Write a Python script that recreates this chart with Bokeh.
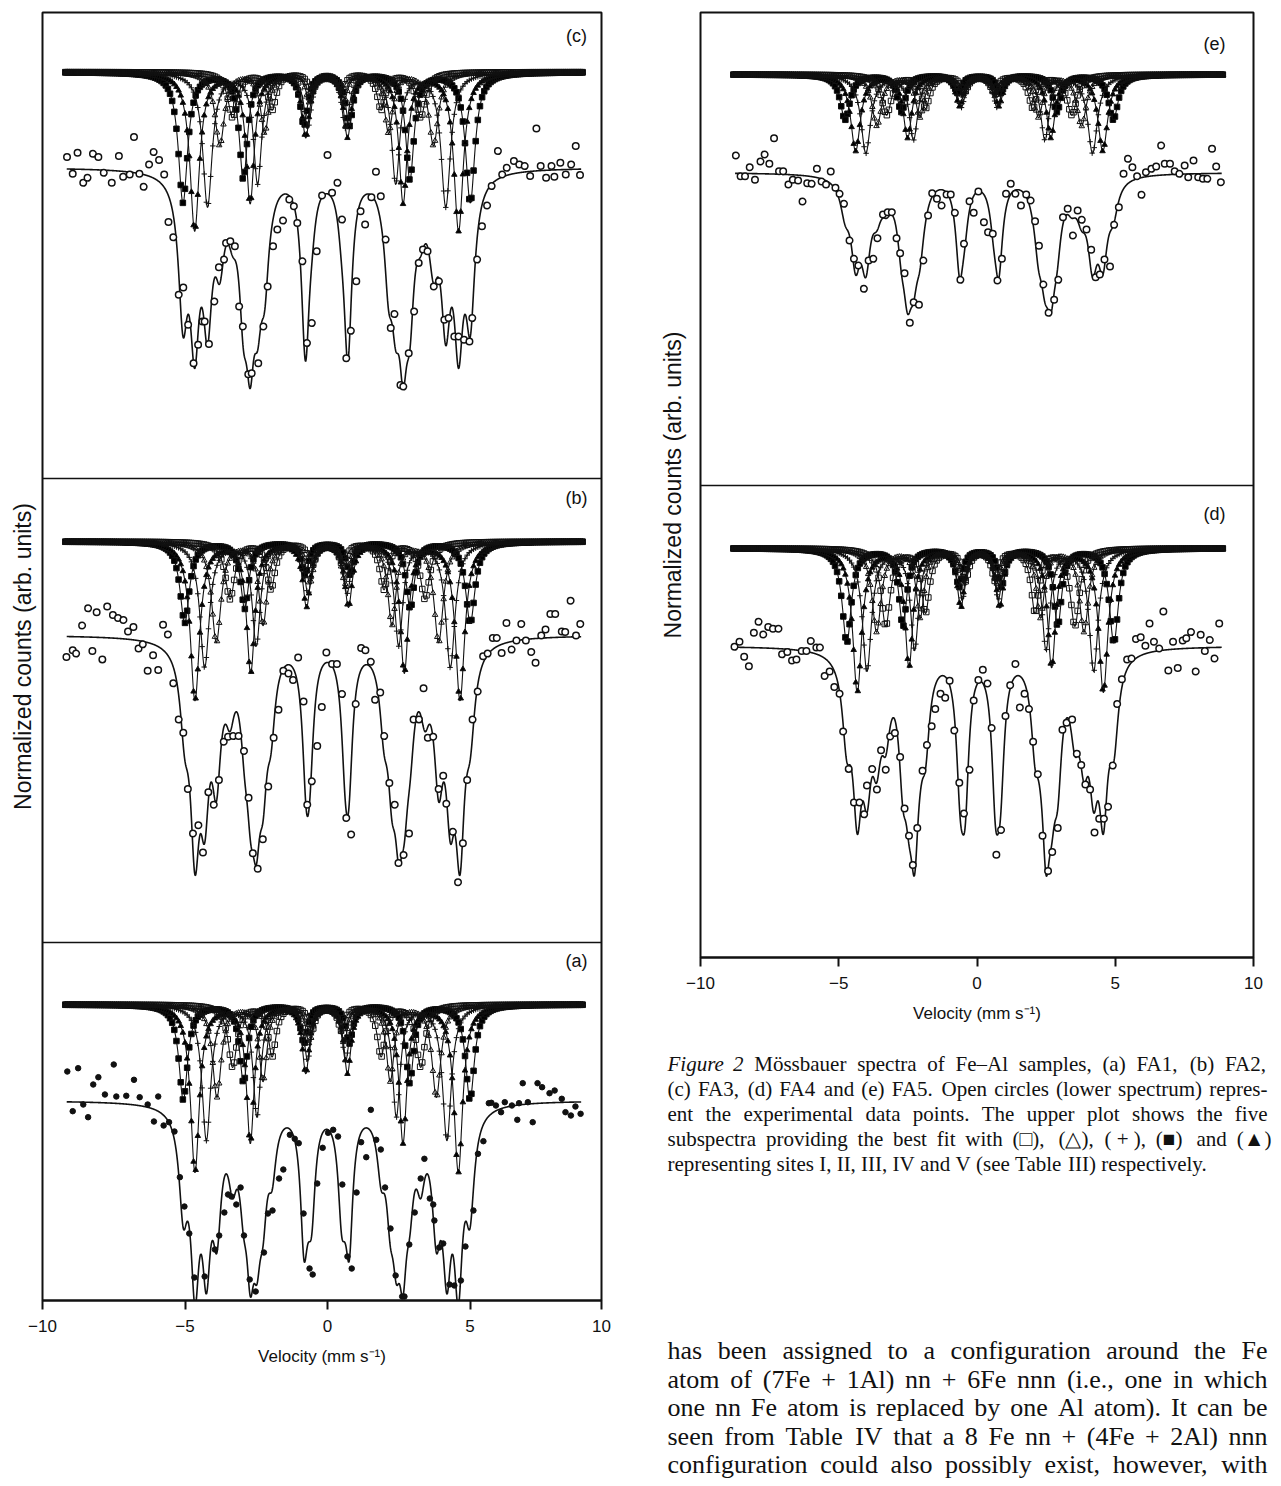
import numpy as np
from bokeh.plotting import figure
from bokeh.layouts import row, column
from bokeh.models import Range1d, FixedTicker, Span, Label, ColumnDataSource
from bokeh.embed import file_html
from bokeh.resources import INLINE
from bokeh.core.properties import value

# ------------------------------------------------------------------ data
x_tick_values = [-10, -5, 0, 5, 10]
x_tick_labels = ["−10", "−5", "0", "5", "10"]
x_axis_title = "Velocity (mm s⁻¹)"
y_axis_title = "Normalized counts (arb. units)"

# six-line magnetic pattern: relative line positions, depths and widths
sextet_positions = [-1.0, -0.5796, -0.1582, 0.1582, 0.5796, 1.0]
sextet_depths = [1.0, 0.82, 0.40, 0.40, 0.82, 1.0]
sextet_widths = [1.25, 1.1, 1.0, 1.0, 1.1, 1.25]

# fitted subspectra (five sites, largest splitting first):
# centre (mm/s), outer-line half splitting (mm/s), outer-line depth (arb.), line HWHM (mm/s)
fa1_centre, fa1_split, fa1_depth, fa1_hwhm = -0.03, [5.03, 4.62, 4.22, 3.85, 3.30], [95, 167, 135, 92, 62], 0.15
fa2_centre, fa2_split, fa2_depth, fa2_hwhm = 0.00, [5.01, 4.65, 4.31, 3.90, 3.42], [81, 158, 125, 100, 57], 0.16
fa3_centre, fa3_split, fa3_depth, fa3_hwhm = -0.03, [5.04, 4.63, 4.18, 3.75, 3.30], [130, 158, 134, 73, 45], 0.16
fa4_centre, fa4_split, fa4_depth, fa4_hwhm = 0.12, [4.83, 4.45, 4.10, 3.75, 3.42], [94, 143, 122, 83, 77], 0.16
fa5_centre, fa5_split, fa5_depth, fa5_hwhm = 0.08, [4.85, 4.47, 4.10, 3.70, 3.35], [45, 76, 78, 51, 40], 0.17

# experimental points (velocity mm/s, counts relative to the background, arb.)
fa1_vel = [-9.13, -8.94, -8.75, -8.57, -8.40, -8.22, -8.04, -7.81, -7.50, -7.41, -7.06, -6.79, -6.59, -6.31, -6.09, -5.94,
           -5.75, -5.56, -5.37, -5.18, -5.02, -4.85, -4.67, -4.31, -3.95, -3.80, -3.62, -3.49, -3.37, -3.20, -3.05, -2.93,
           -2.73, -2.52, -2.23, -2.09, -1.93, -1.70, -1.55, -1.32, -1.15, -1.01, -0.84, -0.63, -0.52, -0.36, -0.17, 0.02,
           0.20, 0.37, 0.52, 0.70, 0.85, 1.02, 1.18, 1.36, 1.52, 1.71, 1.87, 2.02, 2.21, 2.39, 2.62, 2.70, 2.87, 3.06,
           3.27, 3.40, 3.59, 3.71, 3.75, 3.92, 4.06, 4.28, 4.45, 4.68, 4.84, 5.12, 5.28, 5.47, 5.66, 5.75, 5.91, 6.09,
           6.22, 6.47, 6.66, 6.72, 6.85, 7.03, 7.20, 7.37, 7.53, 7.79, 7.97, 8.22, 8.35, 8.54, 8.70, 8.88]
fa1_counts = [29.0, -10.7, 32.3, -4.0, -16.7, 16.0, 23.3, 6.0, 36.0, 4.0, 4.7, 20.7, 3.3, -4.0, -21.0, 4.0,
              -25.0, -21.7, -31.0, -76.7, -106.0, -133.0, -177.0, -176.0, -149.0, -135.0, -112.0, -94.0, -96.0, -104.0, -87.0, -135.0,
              -179.0, -191.0, -152.0, -113.0, -110.0, -78.0, -69.0, -34.3, -38.3, -42.7, -113.0, -168.0, -174.0, -83.0, -47.3, -32.3,
              -29.3, -36.0, -84.0, -156.0, -168.0, -92.0, -41.7, -56.7, -9.3, -39.3, -49.0, -87.0, -128.0, -175.0, -196.0, -196.0, -144.0, -112.0,
              -78.0, -58.3, -98.0, -104.0, -120.0, -147.0, -143.0, -184.0, -185.0, -180.0, -146.0, -110.0, -53.3, -40.7, -2.7, -2.3, -5.0, -11.7,
              -1.7, -5.0, -19.3, -2.7, 17.3, -1.7, -21.7, 17.3, 13.3, 7.3, 10.0, 1.7, -11.7, -15.0, -6.0, -13.3]

fa2_vel = [-9.16, -8.94, -8.82, -8.61, -8.40, -8.25, -8.10, -7.90, -7.73, -7.53, -7.35, -7.16, -7.00, -6.81, -6.63, -6.48,
           -6.31, -6.12, -5.94, -5.77, -5.60, -5.41, -5.22, -5.06, -4.90, -4.72, -4.53, -4.37, -4.18, -3.99, -3.81, -3.64,
           -3.49, -3.31, -3.12, -2.93, -2.77, -2.62, -2.45, -2.27, -2.08, -1.89, -1.72, -1.55, -1.37, -1.21, -1.03, -0.84,
           -0.71, -0.55, -0.36, -0.20, -0.04, 0.16, 0.33, 0.51, 0.66, 0.83, 0.99, 1.18, 1.33, 1.52, 1.67, 1.85, 1.99, 2.17,
           2.36, 2.49, 2.67, 2.86, 3.02, 3.21, 3.37, 3.52, 3.71, 3.90, 4.06, 4.17, 4.40, 4.58, 4.75, 4.90, 5.09, 5.27, 5.46,
           5.62, 5.80, 5.94, 6.11, 6.28, 6.46, 6.63, 6.80, 6.96, 7.15, 7.30, 7.50, 7.65, 7.82, 7.99, 8.22, 8.34, 8.53, 8.72, 8.87]
fa2_counts = [-21.9, -15.3, -18.6, 9.5, 26.7, -15.9, 22.7, -24.5, 28.6, 20.1, 17.1, 15.1, 3.6, 7.9, -13.6, -9.3,
              -35.7, -20.2, -35.1, 10.2, 0.6, -48.3, -84.6, -97.8, -153.9, -198.4, -190.2, -217.5, -157.2, -169.7, -144.9, -106.7,
              -101.7, -101.1, -101.1, -115.9, -162.8, -218.2, -233.7, -204.3, -151.5, -102.7, -74.7, -35.7, -38.4, -44.9, -22.5, -66.4,
              -169.7, -146.3, -111.0, -72.0, -17.6, -29.1, -29.1, -59.1, -182.9, -199.4, -69.0, -12.9, -15.3, -26.8, -64.8, -57.5, -101.1, -147.9,
              -169.7, -228.1, -219.9, -198.4, -84.6, -84.6, -53.2, -102.7, -101.7, -153.9, -140.7, -168.7, -196.8, -247.2, -208.3, -144.9, -84.6, -56.5, -21.2,
              -18.6, -3.0, -3.0, -17.9, 12.1, -14.6, -5.4, 11.1, -5.4, -16.9, -27.8, -0.4, 5.5, 21.1, 21.1, 3.6, 2.9, 34.3, -0.4, 11.1]

fa3_vel = [-9.14, -8.94, -8.77, -8.57, -8.42, -8.23, -8.04, -7.85, -7.57, -7.32, -7.17, -6.94, -6.79, -6.60, -6.45, -6.26,
           -6.10, -5.91, -5.73, -5.58, -5.41, -5.22, -5.06, -4.89, -4.70, -4.54, -4.39, -4.31, -4.16, -3.97, -3.81, -3.63,
           -3.56, -3.41, -3.25, -3.10, -2.97, -2.78, -2.66, -2.43, -2.25, -2.10, -1.91, -1.76, -1.56, -1.34, -1.18, -1.06,
           -0.88, -0.72, -0.55, -0.38, -0.19, 0.00, 0.16, 0.35, 0.51, 0.66, 0.82, 1.01, 1.16, 1.32, 1.54, 1.70, 1.87, 2.04,
           2.22, 2.35, 2.56, 2.66, 2.85, 3.04, 3.20, 3.35, 3.51, 3.73, 3.91, 4.10, 4.25, 4.45, 4.60, 4.79, 4.98, 5.08, 5.25,
           5.42, 5.60, 5.76, 5.98, 6.13, 6.29, 6.54, 6.73, 6.92, 7.11, 7.33, 7.48, 7.67, 7.86, 7.96, 8.17, 8.36, 8.55, 8.71, 8.86]
fa3_counts = [10.4, -6.3, 14.7, -15.3, -10.3, 13.7, 10.4, -5.3, -15.3, 11.4, -9.3, -7.0, 30.4, -6.3, -19.3, 3.1,
              15.4, 7.4, -7.0, -54.4, -69.8, -127.2, -119.9, -157.3, -195.7, -177.3, -153.9, -153.9, -176.6, -133.9, -99.8, -92.1,
              -75.4, -73.8, -78.8, -138.9, -158.9, -206.7, -205.7, -195.7, -158.9, -118.9, -78.8, -62.1, -53.1, -32.0, -38.7, -55.4,
              -93.8, -175.6, -155.6, -83.8, -28.0, 12.4, -25.3, -15.3, -52.1, -190.7, -163.3, -113.8, -43.7, -57.1, -29.7, -4.3, -28.7, -72.1,
              -160.6, -146.6, -217.4, -219.1, -185.7, -143.9, -95.5, -82.1, -83.8, -118.9, -113.8, -152.3, -150.6, -169.0, -169.0, -172.3, -174.0, -150.6, -92.1,
              -58.7, -38.0, -18.6, 16.4, -7.0, -0.3, 6.4, 3.1, 1.4, -8.6, 39.1, 1.4, -10.3, 1.4, -9.3, 4.7, -7.0, 3.1, 21.4, -7.6]

fa4_vel = [-8.77, -8.59, -8.42, -8.25, -8.07, -7.90, -7.73, -7.55, -7.38, -7.18, -7.05, -6.86, -6.69, -6.53, -6.34, -6.17,
           -6.01, -5.81, -5.68, -5.51, -5.33, -5.16, -4.97, -4.84, -4.64, -4.45, -4.25, -4.08, -3.98, -3.79, -3.62, -3.47,
           -3.30, -3.14, -2.97, -2.78, -2.62, -2.46, -2.32, -2.16, -1.97, -1.81, -1.64, -1.51, -1.32, -1.15, -0.99, -0.82,
           -0.64, -0.47, -0.27, -0.12, 0.05, 0.21, 0.38, 0.53, 0.70, 0.87, 1.03, 1.20, 1.39, 1.55, 1.72, 1.88, 2.03, 2.20,
           2.37, 2.57, 2.72, 2.92, 3.09, 3.24, 3.44, 3.61, 3.77, 3.92, 4.09, 4.25, 4.42, 4.59, 4.74, 4.91, 5.07, 5.24, 5.43,
           5.59, 5.75, 5.92, 6.09, 6.24, 6.40, 6.59, 6.74, 6.92, 7.09, 7.26, 7.44, 7.57, 7.74, 7.91, 8.09, 8.24, 8.42, 8.59, 8.76]
fa4_counts = [-1.0, 4.1, -10.9, -20.5, 13.0, 24.0, 11.3, 18.8, 17.1, 17.1, -8.5, -6.1, -14.7, -13.7, -5.1, -5.1,
              4.8, -1.7, -1.7, -30.1, -25.7, -41.1, -47.9, -85.6, -123.3, -156.8, -156.8, -168.5, -139.7, -123.3, -143.8, -104.4,
              -123.9, -90.7, -87.3, -111.3, -162.7, -190.0, -219.2, -182.2, -125.0, -99.3, -80.5, -63.3, -47.9, -52.0, -34.9, -84.6,
              -137.0, -167.8, -124.0, -54.8, -34.2, -23.9, -37.7, -82.2, -208.9, -184.2, -70.2, -39.4, -18.1, -61.6, -47.9, -63.3, -95.9, -128.4,
              -190.0, -225.3, -206.1, -182.2, -83.9, -77.0, -73.6, -107.9, -119.2, -138.7, -143.8, -186.6, -172.9, -172.9, -160.9, -119.8, -58.2, -33.5, -13.7,
              -12.7, 6.9, 8.6, 0.0, 22.3, 4.1, -2.7, 34.3, -24.6, 4.1, -22.2, 5.2, 7.6, 13.7, -25.7, 11.0, -5.1, 5.8, -12.7, 22.3]

fa5_vel = [-8.72, -8.55, -8.39, -8.22, -8.03, -7.83, -7.68, -7.51, -7.34, -7.16, -7.01, -6.82, -6.66, -6.47, -6.31, -6.14,
           -5.98, -5.79, -5.62, -5.46, -5.29, -5.12, -4.97, -4.81, -4.61, -4.45, -4.29, -4.09, -3.92, -3.75, -3.60, -3.40,
           -3.23, -3.08, -2.91, -2.78, -2.62, -2.43, -2.29, -2.10, -1.94, -1.77, -1.62, -1.45, -1.28, -1.10, -0.95, -0.80,
           -0.60, -0.47, -0.27, -0.12, 0.05, 0.25, 0.40, 0.57, 0.74, 0.90, 1.05, 1.22, 1.39, 1.59, 1.78, 1.94, 2.10, 2.24,
           2.40, 2.59, 2.79, 2.94, 3.11, 3.28, 3.47, 3.64, 3.79, 3.96, 4.13, 4.29, 4.44, 4.61, 4.81, 4.96, 5.13, 5.30, 5.46,
           5.62, 5.79, 5.95, 6.11, 6.31, 6.48, 6.66, 6.79, 6.98, 7.15, 7.32, 7.51, 7.64, 7.83, 8.00, 8.17, 8.33, 8.50, 8.65, 8.82]
fa5_counts = [17.0, -3.7, -3.7, 5.3, -7.3, 11.0, 18.0, 8.7, 34.3, 1.3, 1.3, -12.0, -7.3, -8.0, -29.0, -10.7,
              -11.3, 3.7, -9.0, -12.0, 1.0, -15.3, -21.3, -31.3, -68.0, -86.3, -93.0, -116.3, -88.0, -86.3, -65.7, -42.0,
              -39.7, -39.7, -65.7, -80.7, -100.7, -150.3, -129.7, -132.3, -88.0, -43.0, -20.7, -26.3, -33.0, -22.0, -22.0, -40.3,
              -107.3, -71.3, -28.7, -40.3, -19.0, -49.7, -59.7, -61.3, -108.0, -86.3, -21.3, -11.3, -21.3, -33.0, -22.0, -28.0, -48.7, -73.3,
              -112.0, -140.3, -127.3, -107.3, -44.7, -36.3, -63.0, -38.0, -47.3, -57.0, -77.3, -104.7, -102.0, -87.0, -94.0, -52.3, -34.7, -1.3, 13.7,
              5.3, -3.7, -22.3, 0.3, 3.7, 6.0, 27.0, 8.7, 8.7, 1.3, -1.3, 7.0, -4.7, 12.0, -4.7, -6.3, -6.3, 23.7, 6.0, -9.7]

caption_lines = [
    "Figure 2 Mössbauer spectra of Fe–Al samples, (a) FA1, (b) FA2,",
    "(c) FA3, (d) FA4 and (e) FA5. Open circles (lower spectrum) repres-",
    "ent the experimental data points. The upper plot shows the five",
    "subspectra providing the best fit with (□), (△), (\u00a0+\u00a0), (■) and (▲)",
    "representing sites I, II, III, IV and V (see Table III) respectively.",
]
body_lines = [
    "has been assigned to a configuration around the Fe",
    "atom of (7Fe + 1Al) nn + 6Fe nnn (i.e., one in which",
    "one nn Fe atom is replaced by one Al atom). It can be",
    "seen from Table IV that a 8 Fe nn + (4Fe + 2Al) nnn",
    "configuration could also possibly exist, however, with",
]

# ------------------------------------------------------------------ styles / layout
BLACK = "#111111"
SANS = "Liberation Sans"
SERIF = "Liberation Serif"
site_marker = ["square", "triangle", "cross", "triangle", "square"]
site_fill = ["black", "black", None, None, None]

LEFT_END = 9.614          # right edge of the left frame (labelled "10")
left_layout = {
    "(c)": dict(upper=1228.5, lower=1133.0, label=1265),
    "(b)": dict(upper=759.0, lower=665.5, label=803),
    "(a)": dict(upper=296.0, lower=200.0, label=340),
}
left_dividers = [822, 358]
right_layout = {
    "(e)": dict(upper=883.0, lower=785.0, label=914),
    "(d)": dict(upper=409.3, lower=311.7, label=444),
}
right_dividers = [472]


def site_dip(v, centre, split, depth, hwhm):
    out = np.zeros_like(v)
    for r, a, w in zip(sextet_positions, sextet_depths, sextet_widths):
        g = hwhm * w
        out += depth * a / (1.0 + ((v - (centre + split * r)) / g) ** 2)
    return out


def nnls(A, b, max_iter=300):
    n = A.shape[1]
    x = np.zeros(n)
    P = np.zeros(n, dtype=bool)
    for _ in range(max_iter):
        w = A.T @ (b - A @ x)
        cand = np.where(P, -np.inf, w)
        if P.all() or cand.max() <= 1e-9:
            break
        P[int(np.argmax(cand))] = True
        for _ in range(max_iter):
            z = np.zeros(n)
            z[P] = np.linalg.lstsq(A[:, P], b, rcond=None)[0]
            if np.all(z[P] > 0):
                x = z
                break
            neg = P & (z <= 0)
            alpha = np.min(x[neg] / (x[neg] - z[neg] + 1e-15))
            x = x + alpha * (z - x)
            P &= x > 1e-10
            x[~P] = 0.0
    return x


def fit_basis(v, centre, splits, hwhm):
    cols = []
    for h in splits:
        for r, wf in zip([1.0, 0.5796, 0.1582], [1.2, 1.1, 1.0]):
            g = hwhm * wf
            cols.append(1.0 / (1.0 + ((v - (centre - h * r)) / g) ** 2)
                        + 1.0 / (1.0 + ((v - (centre + h * r)) / g) ** 2))
    return np.array(cols).T


def draw_panel(p, upper_span, lower_span, centre, splits, depths, hwhm,
               vel, counts, lay, filled):
    vu = np.linspace(upper_span[0], upper_span[1], 1800)
    vm = np.arange(upper_span[0], upper_span[1] + 1e-9, 0.075)
    for k in range(5):
        p.line(vu, lay["upper"] - site_dip(vu, centre, splits[k], depths[k], hwhm),
               line_color=BLACK, line_width=1.1)
        p.scatter(vm, lay["upper"] - site_dip(vm, centre, splits[k], depths[k], hwhm),
                  marker=site_marker[k], size=5.5, line_color=BLACK, line_width=1,
                  fill_color=site_fill[k])
    # least-squares fit of the sum of the five subspectra to the measured points
    va = np.array(vel, dtype=float)
    ca = np.array(counts, dtype=float)
    amp = nnls(fit_basis(va, centre, splits, hwhm), -ca)
    vl = np.linspace(lower_span[0], lower_span[1], 1800)
    p.line(vl, lay["lower"] - fit_basis(vl, centre, splits, hwhm) @ amp,
           line_color=BLACK, line_width=1.6)
    if filled:
        p.scatter(va, lay["lower"] + ca, marker="circle", size=5.5, line_color=BLACK, fill_color=BLACK)
    else:
        p.scatter(va, lay["lower"] + ca, marker="circle", size=6.5, line_color=BLACK, line_width=1.5,
                  fill_color="white")
    p.add_layout(Label(x=lay["label_x"], y=lay["label"], text=lay["name"], text_font=SANS,
                       text_font_size="18px", text_align="center", text_baseline="middle",
                       text_color=BLACK))


def style(p, ticks, standoff):
    p.xgrid.visible = False
    p.ygrid.visible = False
    p.outline_line_color = BLACK
    p.outline_line_width = 2
    p.background_fill_color = "white"
    p.border_fill_color = "white"
    ax = p.xaxis[0]
    ax.ticker = FixedTicker(ticks=ticks)
    ax.major_label_overrides = {t: l for t, l in zip(ticks, x_tick_labels)}
    ax.axis_line_color = BLACK
    ax.axis_line_width = 2
    ax.major_tick_line_color = BLACK
    ax.major_tick_line_width = 2
    ax.major_tick_out = 9
    ax.major_tick_in = 0
    ax.minor_tick_line_color = None
    ax.major_label_text_font = SANS
    ax.major_label_text_font_size = "17px"
    ax.major_label_text_color = BLACK
    ax.major_label_standoff = 10
    ax.axis_label = x_axis_title
    ax.axis_label_text_font = SANS
    ax.axis_label_text_font_size = "17px"
    ax.axis_label_text_font_style = "normal"
    ax.axis_label_text_color = BLACK
    ax.axis_label_standoff = 12
    ay = p.yaxis[0]
    ay.ticker = FixedTicker(ticks=[])
    ay.axis_line_color = None
    ay.major_tick_line_color = None
    ay.minor_tick_line_color = None
    ay.major_tick_out = 0
    ay.major_label_standoff = 0
    ay.axis_label = y_axis_title
    ay.axis_label_text_font = SANS
    ay.axis_label_text_font_size = "23px"
    ay.axis_label_text_font_style = "normal"
    ay.axis_label_text_color = BLACK
    ay.axis_label_standoff = standoff


# ------------------------------------------------------------------ left column: (c), (b), (a)
pL = figure(width=640, height=1486, x_range=Range1d(-10, LEFT_END), y_range=Range1d(0, 1288),
            toolbar_location=None, output_backend="svg",
            min_border_left=42, min_border_right=39, min_border_top=12, min_border_bottom=186)
style(pL, [-10, -5, 0, 5, LEFT_END], 7)
for loc in left_dividers:
    pL.add_layout(Span(location=loc, dimension="width", line_color=BLACK, line_width=1.6))

left_sets = [
    ("(c)", fa3_centre, fa3_split, fa3_depth, fa3_hwhm, fa3_vel, fa3_counts, False),
    ("(b)", fa2_centre, fa2_split, fa2_depth, fa2_hwhm, fa2_vel, fa2_counts, False),
    ("(a)", fa1_centre, fa1_split, fa1_depth, fa1_hwhm, fa1_vel, fa1_counts, True),
]
for name, c, h, d, g, vel, cnt, filled in left_sets:
    lay = dict(left_layout[name], name=name, label_x=8.74)
    draw_panel(pL, (-9.2, 8.99), (-9.15, 8.9), c, h, d, g, vel, cnt, lay, filled)

# ------------------------------------------------------------------ right column: (e), (d)
pR = figure(width=641, height=1040, x_range=Range1d(-10, 10), y_range=Range1d(0, 945),
            toolbar_location=None, output_backend="svg",
            min_border_left=60, min_border_right=28, min_border_top=12, min_border_bottom=83)
style(pR, x_tick_values, 15)
for loc in right_dividers:
    pR.add_layout(Span(location=loc, dimension="width", line_color=BLACK, line_width=1.6))

right_sets = [
    ("(e)", fa5_centre, fa5_split, fa5_depth, fa5_hwhm, fa5_vel, fa5_counts),
    ("(d)", fa4_centre, fa4_split, fa4_depth, fa4_hwhm, fa4_vel, fa4_counts),
]
for name, c, h, d, g, vel, cnt in right_sets:
    lay = dict(right_layout[name], name=name, label_x=8.59)
    draw_panel(pR, (-8.81, 8.91), (-8.75, 8.85), c, h, d, g, vel, cnt, lay, False)

# ------------------------------------------------------------------ caption and body text (justified)
W_UP = dict(zip("ABCDEFGHIJKLMNOPQRSTUVWXYZ",
                [722, 667, 667, 722, 611, 556, 722, 722, 333, 389, 722, 611, 889, 722, 722, 556, 722, 667,
                 556, 611, 722, 722, 944, 722, 722, 611]))
W_LO = dict(zip("abcdefghijklmnopqrstuvwxyz",
                [444, 500, 444, 500, 444, 333, 500, 500, 278, 278, 500, 278, 778, 500, 500, 500, 500, 333,
                 389, 278, 500, 500, 722, 500, 500, 444]))
W_SYM = {" ": 250, "\u00a0": 250, "(": 333, ")": 333, "+": 564, ",": 250, "-": 333, ".": 250,
         "–": 500, "ö": 500, "□": 800, "△": 800, "■": 800, "▲": 800}


def word_width(w, size):
    tot = 0
    for ch in w:
        tot += 500 if ch.isdigit() else W_UP.get(ch, W_LO.get(ch, W_SYM.get(ch, 500)))
    return tot * size / 1000.0


def set_lines(lines, x0, width, base0, step, size, italic_first, justify_last):
    normal, italic = dict(x=[], y=[], t=[]), dict(x=[], y=[], t=[])
    for li, line in enumerate(lines):
        words = line.split(" ")
        widths = [word_width(w, size) for w in words]
        if li == len(lines) - 1 and not justify_last:
            gap = 0.25 * size
        else:
            gap = (width - sum(widths)) / (len(words) - 1)
        x = x0
        for wi, (w, ww) in enumerate(zip(words, widths)):
            tgt = italic if (li == 0 and wi < italic_first) else normal
            tgt["x"].append(x)
            tgt["y"].append(base0 + li * step)
            tgt["t"].append(w)
            x += ww + gap
    return normal, italic


# text panel: its coordinates are page pixels (x 640..1281, y 1040..1486 downwards)
pT = figure(width=641, height=446, x_range=Range1d(640, 1281), y_range=Range1d(1486, 1040),
            toolbar_location=None, output_backend="svg", x_axis_type=None, y_axis_type=None,
            min_border=0, min_border_left=0, min_border_right=0, min_border_top=0, min_border_bottom=0,
            outline_line_color=None)
pT.xgrid.visible = False
pT.ygrid.visible = False

cap_n, cap_i = set_lines(caption_lines, 667, 600, 1063, 25.0, 21, 2, False)
body_n, _ = set_lines(body_lines, 667, 600, 1350, 28.5, 26, 0, True)
for data, size, fstyle in [(cap_n, "21px", "normal"), (cap_i, "21px", "italic"),
                           (body_n, "26px", "normal")]:
    pT.text(x="x", y="y", text="t", source=ColumnDataSource(data), text_font=value(SERIF),
            text_font_size=value(size), text_font_style=fstyle, text_align="left",
            text_baseline="alphabetic", text_color=BLACK)

layout = row(pL, column(pR, row(pT, spacing=0), spacing=0), spacing=0)
open("out.html", "w").write(file_html(layout, INLINE))
